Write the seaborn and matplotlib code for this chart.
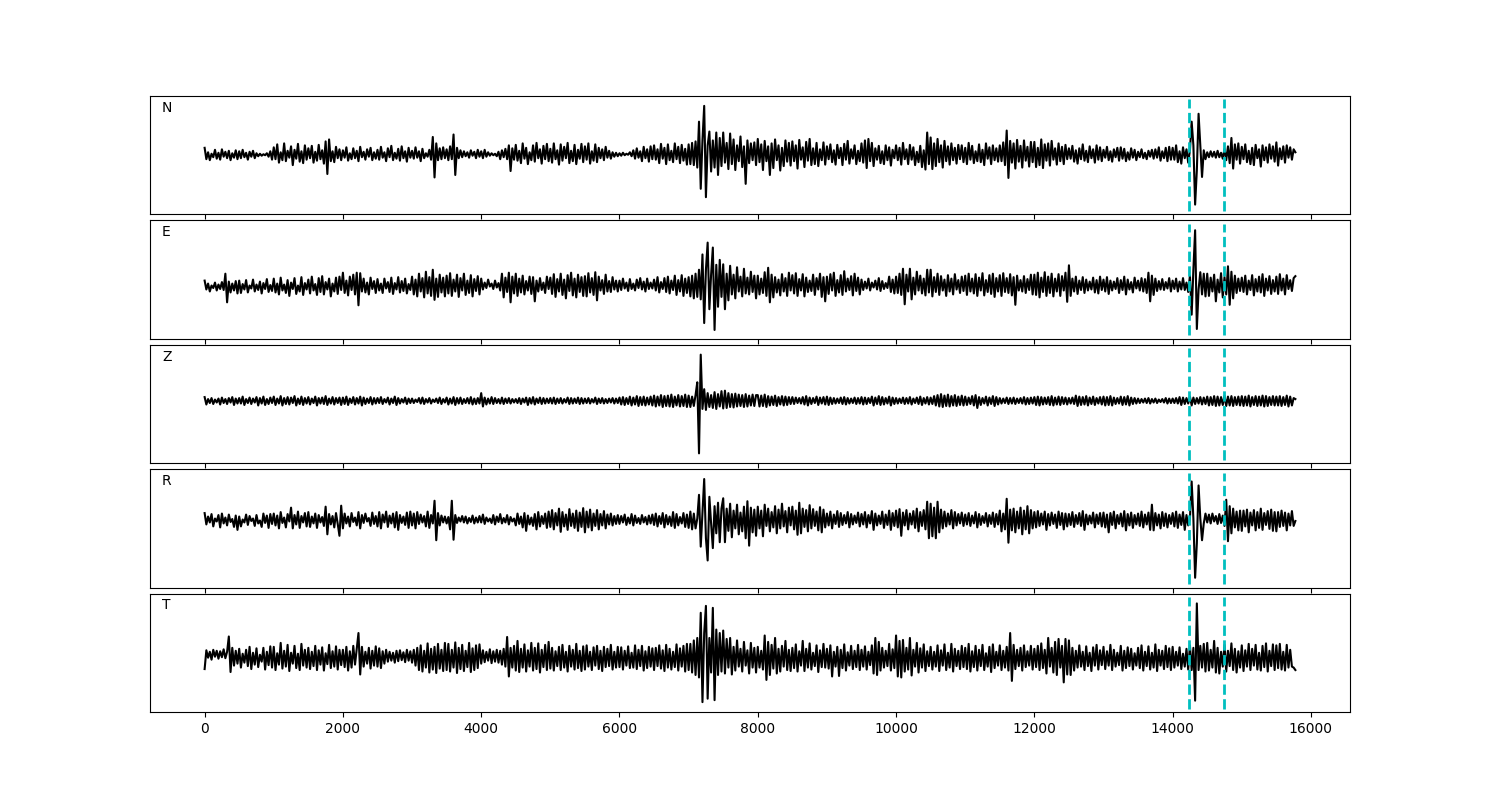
import numpy as np
import pandas as pd
import seaborn as sns
import matplotlib
matplotlib.use("Agg")
import matplotlib.pyplot as plt

components = ["N", "E", "Z", "R", "T"]
samples = np.arange(0, 15800, 25)
picks = [14230, 14740]

# normalised amplitudes (x100), one value every 25 samples, one row per 500 samples
trace_n = [
    15, -8, 6, -10, 3, -4, 11, -7, 5, -9, 12, -3, 7, -6, 9, -10, 4, -5, 10, -8,
    8, -6, 11, -4, 5, -9, 7, -3, 9, -6, 4, -2, 3, -1, 2, 0, 4, -3, 8, -9,
    16, -8, 22, -15, 6, -10, 24, -12, 9, -5, 18, -20, 11, -7, 23, -13, 8, -16, 20, -9,
    14, -6, 19, -15, 7, -11, 21, -8, 10, -17, 28, -38, 32, -12, 8, -14, 17, -6, 12, -10,
    10, -5, 16, -11, 4, -8, 14, -6, 9, -12, 17, -4, 7, -9, 12, -3, 15, -10, 6, -7,
    11, -9, 17, -5, 6, -12, 14, -4, 19, -10, 5, -7, 13, -11, 18, -6, 8, -13, 15, -5,
    9, -7, 16, -5, 8, -12, 13, -6, 4, -3, 11, -9, 37, -45, 24, -10, 14, -8, 16, -6,
    12, -10, 18, -8, 42, -40, 15, -6, 10, -4, 8, -2, 6, -5, 10, -1, 7, -6, 11, -3,
    8, -6, 11, -3, 6, -1, 4, 0, 3, -2, 7, -8, 10, -4, 13, -8, 20, -32, 14, -9,
    21, -11, 9, -16, 24, -7, 15, -18, 6, -10, 20, -13, 25, -6, 12, -17, 19, -8, 23, -12,
    13, -15, 24, -8, 10, -19, 22, -11, 17, -6, 25, -16, 9, -12, 21, -18, 11, -7, 23, -14,
    18, -9, 24, -17, 8, -11, 22, -14, 15, -6, 12, -10, 17, -5, 9, -7, 6, -3, 5, -2,
    4, -1, 5, 0, 3, 1, 6, -2, 10, -7, 14, -5, 8, -12, 17, -6, 12, -13, 18, -8,
    20, -9, 12, -16, 23, -7, 15, -18, 22, -10, 9, -14, 24, -8, 17, -16, 21, -11, 13, -19,
    22, -18, 25, -20, 28, -25, 68, -68, 30, 100, -85, 20, 48, -33, 30, -25, 46, -40, 35, -22,
    46, -15, 25, -28, 44, -18, 32, -30, 20, -12, 38, -24, 18, -58, 30, -16, 24, -10, 26, -20,
    33, -14, 22, -30, 29, -12, 18, -40, 24, -26, 32, -10, 20, -31, 15, -22, 30, -13, 25, -21,
    28, -12, 20, -27, 31, -9, 16, -24, 27, -11, 33, -20, 14, -18, 25, -22, 12, -10, 26, -19,
    18, -8, 22, -14, 10, -19, 21, -6, 15, -20, 23, -9, 29, -17, 12, -7, 20, -18, 9, -12,
    24, -15, 30, -26, 33, -12, 25, -22, 14, -9, 19, -16, 8, -18, 20, -10, 16, -21, 11, -6,
    20, -10, 15, -19, 25, -8, 12, -18, 21, -9, 16, -20, 7, -14, 19, -24, 10, -29, 46, -18,
    36, -28, 24, -22, 33, -14, 20, -25, 29, -12, 18, -19, 24, -10, 15, -17, 21, -8, 20, -14,
    15, -18, 25, -9, 19, -16, 8, -12, 22, -14, 11, -20, 24, -7, 16, -18, 20, -10, 14, -13,
    20, -12, 26, -20, 50, -46, 29, -15, 24, -27, 31, -13, 19, -25, 30, -11, 17, -23, 27, -14,
    27, -24, 15, -20, 32, -26, 22, -11, 24, -21, 29, -9, 14, -19, 24, -12, 17, -18, 21, -8,
    14, -7, 19, -13, 10, -17, 14, -8, 22, -11, 9, -14, 18, -6, 12, -15, 20, -9, 16, -12,
    11, -5, 17, -10, 8, -13, 12, -4, 15, -11, 16, -7, 13, -12, 6, -9, 14, -5, 11, -10,
    7, -4, 12, -6, 5, -8, 9, -3, 11, -7, 12, -5, 16, -11, 8, -6, 15, -12, 17, -9,
    15, -9, 20, -14, 8, -17, 16, -6, 12, -15, 10, 68, 20, -100, -30, 84, 20, -44, 10, -8,
    6, -4, 8, -3, 7, -5, 9, -4, 5, -7, 13, -10, 18, -16, 35, -27, 22, -9, 24, -17,
    17, -8, 22, -14, 9, -18, 15, -20, 21, -6, 12, -23, 20, -10, 16, -15, 22, -7, 18, -13,
    26, -21, 14, -8, 18, -15, 20, -5, 16, -9, 12, 6,
]
trace_e = [
    -2, -20, -8, -24, -12, -17, -6, -22, -10, -19, -5, -21, 12, -46, -4, -26, -8, -22, -3, -28,
    -2, -27, -9, -20, -1, -26, -12, -18, 0, -24, -10, -21, -4, -28, -7, -19, 1, -25, -11, -23,
    2, -26, -8, -30, 4, -22, -10, -27, -1, -33, -6, -19, 3, -29, -12, -24, 5, -31, -7, -20,
    0, -28, 6, -22, -9, -31, 3, -25, 7, -30, -5, -20, 2, -34, -8, -24, 4, -29, 6, -21,
    14, -27, -2, -32, 6, -21, 10, -30, 14, -52, 13, -24, 2, -26, -6, -30, 4, -19, -3, -27,
    1, -22, -8, -27, 2, -18, -5, -25, 4, -29, -7, -20, 5, -26, -3, -23, 2, -28, -9, -21,
    6, -30, 0, -34, 12, -24, 3, -36, 16, -28, 5, -33, 20, -41, 2, -35, 10, -26, 4, -34,
    8, -28, 13, -33, 0, -24, 10, -35, 3, -22, 12, -31, -2, -27, 9, -34, 1, -23, 7, -30,
    2, -20, -6, -17, 0, -14, -8, -19, -2, -16, -7, -22, 12, -36, 4, -25, 14, -46, 6, -28,
    12, -33, 2, -26, 8, -30, -3, -22, 6, -29, 5, -44, -2, -24, 3, -21, -6, -27, 6, -19,
    4, -29, 11, -35, 1, -24, 12, -31, 0, -38, 9, -23, 14, -32, 2, -36, 10, -25, 5, -33,
    7, -34, 13, -26, 3, -31, 15, -42, 6, -22, -1, -29, 10, -24, -3, -25, 5, -20, -2, -24,
    -2, -21, 2, -18, -6, -23, 1, -19, -8, -22, 0, -17, 3, -20, -4, -24, 2, -19, -6, -18,
    0, -22, 5, -26, -5, -19, 3, -25, 6, -28, -2, -21, 8, -31, -1, -24, 9, -33, 2, -27,
    5, -34, 8, -38, 12, -35, 20, -40, 51, -88, 20, 75, -60, 10, 65, -102, 30, -55, 40, -35,
    31, -60, 12, -42, 28, -30, 10, -38, 25, -24, 6, -34, 22, -28, 4, -30, 16, -25, 8, -38,
    8, -30, 2, -27, 15, -33, 24, -46, 10, -36, 5, -26, 0, -32, 11, -24, 3, -33, 14, -22,
    9, -28, 13, -33, 1, -22, 11, -34, 4, -25, -2, -23, 10, -31, 3, -20, 12, -35, 5, -44,
    6, -29, 11, -22, 14, -33, -1, -26, 9, -31, 17, -24, 2, -21, 7, -32, 12, -23, 4, -30,
    0, -21, -4, -18, 2, -22, -6, -16, -2, -20, 3, -23, -3, -19, -7, -17, 6, -25, 0, -28,
    6, -27, 12, -31, 22, -50, 10, -24, 22, -40, 4, -30, 16, -22, 8, -28, 2, -32, 20, -26,
    20, -34, 5, -25, 12, -31, 7, -22, 0, -33, 9, -24, 2, -30, 11, -20, -1, -27, 6, -23,
    8, -31, 12, -24, 2, -28, 11, -33, 4, -22, 13, -32, -1, -25, 9, -29, 12, -35, 3, -24,
    9, -33, 13, -25, 3, -27, 11, -32, 5, -51, 8, -22, -1, -24, 7, -27, 1, -21, 10, -30,
    10, -31, 14, -36, 4, -25, 15, -33, 6, -27, 12, -34, 2, -24, 11, -33, 7, -22, 14, -45,
    29, -33, 2, -24, 6, -29, -2, -21, 5, -27, 0, -22, -4, -20, 4, -26, -1, -28, 6, -21,
    0, -24, 5, -29, -2, -22, -4, -19, 3, -27, -1, -21, 6, -30, 0, -20, -5, -26, 4, -18,
    -2, -22, 3, -24, 1, -27, 14, -44, 8, -31, 2, -23, -3, -20, 1, -21, -5, -18, 3, -24,
    -2, -19, 2, -24, -4, -20, 3, -21, -6, -25, 8, -71, 20, 100, -100, -20, 15, -30, 12, -34,
    12, -33, 4, -24, 10, -44, 0, -26, 13, -36, 5, -30, 27, -51, 16, -38, 8, -27, 2, -23,
    4, -25, 8, -30, -2, -21, 9, -32, 1, -24, 6, -26, 11, -33, 2, -22, 7, -29, -1, -24,
    6, -29, 11, -22, 2, -30, 9, -19, -1, -23, 3, 7,
]
trace_z = [
    14, -1, 10, 2, 12, 0, 9, 3, 11, -1, 13, 2, 10, 0, 12, 3, 14, -2, 11, 1,
    12, 1, 15, -2, 10, 2, 13, 0, 11, 3, 14, -3, 12, 1, 15, -2, 10, 0, 13, 2,
    15, -2, 11, 1, 16, -3, 12, 0, 14, -1, 13, 2, 16, -3, 11, 0, 15, -2, 12, 1,
    14, -1, 11, 2, 15, -3, 12, 1, 13, 0, 16, -2, 11, 1, 14, -1, 12, 2, 13, -2,
    13, 0, 15, -2, 11, 2, 14, -1, 12, 1, 15, -3, 13, 0, 11, 2, 14, -1, 12, 1,
    12, 2, 14, 0, 10, 3, 13, -1, 11, 2, 15, -2, 12, 1, 10, 3, 13, 0, 11, 2,
    11, 2, 9, 4, 12, 1, 13, 0, 10, 3, 12, 1, 9, 4, 11, 2, 13, 0, 10, 3,
    13, -1, 11, 1, 14, -2, 12, 1, 13, 0, 10, 2, 12, 1, 14, -1, 11, 0, 12, 1,
    22, -5, 13, -1, 11, 1, 14, 0, 12, 2, 10, 1, 13, 0, 11, 2, 12, 1, 10, 3,
    10, 2, 12, 0, 11, 3, 13, -2, 12, 1, 14, -1, 11, 2, 13, 0, 12, 1, 11, 2,
    12, 1, 13, 0, 11, 2, 12, 1, 10, 3, 13, 0, 12, 1, 11, 2, 13, 0, 12, 1,
    11, 2, 12, 1, 10, 3, 13, 0, 11, 2, 12, 1, 10, 2, 11, 3, 12, 1, 11, 2,
    13, -1, 14, -2, 12, 0, 15, -3, 13, -1, 16, -4, 14, -2, 15, -3, 13, -1, 15, -3,
    17, -5, 15, -3, 18, -6, 16, -4, 17, -5, 19, -6, 15, -3, 18, -5, 16, -4, 19, -6,
    17, -6, 15, -4, 18, 44, -100, 100, -10, 30, -12, 22, -6, 18, -8, 24, -10, 20, -5, 26,
    -9, 27, -8, 22, -6, 20, -7, 21, -5, 19, -4, 18, -6, 20, -5, 17, -3, 19, -4, 18,
    18, -5, 17, -4, 19, -6, 16, -3, 15, -2, 17, -4, 14, -1, 16, -3, 15, -2, 14, 0,
    14, 0, 13, 2, 12, 1, 14, -1, 16, -3, 13, 0, 12, 2, 15, -2, 13, 1, 14, -1,
    15, -2, 13, 0, 12, 1, 11, 2, 13, 0, 14, -1, 12, 1, 11, 2, 13, 0, 12, 1,
    14, -1, 13, 0, 12, 2, 15, -3, 13, 0, 16, -2, 14, -1, 12, 1, 15, -3, 13, 0,
    12, 1, 11, 2, 13, 0, 12, 1, 14, -1, 11, 2, 13, 0, 15, -2, 12, 1, 14, -1,
    13, 0, 16, -3, 18, -5, 20, -6, 17, -4, 19, -5, 16, -3, 18, -4, 15, -2, 17, -3,
    15, -2, 13, 0, 16, -3, 18, -8, 14, -2, 12, 1, 15, -3, 13, 0, 16, -4, 14, -1,
    12, 1, 11, 2, 13, 0, 12, 1, 13, 0, 11, 2, 12, 1, 14, -1, 12, 0, 13, 1,
    14, -2, 15, -3, 14, -1, 13, 0, 14, -2, 16, -3, 13, -1, 15, -2, 14, 0, 13, -1,
    12, 1, 13, 0, 17, -4, 15, -2, 14, -1, 16, -3, 13, 0, 15, -2, 12, 1, 14, -1,
    15, -3, 14, -2, 16, -3, 13, 0, 12, 1, 15, -2, 14, -1, 16, -3, 13, 0, 12, 1,
    11, 2, 10, 3, 11, 2, 12, 1, 10, 3, 11, 2, 9, 4, 10, 3, 12, 1, 11, 2,
    11, 2, 12, 1, 14, -2, 13, 0, 12, 1, 15, -3, 13, 0, 12, 1, 14, -1, 13, 0,
    15, -3, 14, -2, 16, -4, 15, -3, 14, -2, 17, -4, 15, -3, 16, -4, 14, -2, 15, -3,
    16, -4, 15, -3, 17, -5, 14, -2, 16, -4, 15, -3, 17, -5, 16, -4, 14, -2, 16, -3,
    15, -3, 16, -4, 14, -2, 17, -5, 15, -3, 12, 10,
]
trace_r = [
    31, 8, 24, 12, 29, 4, 20, 14, 27, 2, 30, 10, 22, 6, 28, 13, 19, 3, 26, -3,
    24, 4, 18, 12, 28, 7, 25, 15, 20, 5, 27, 10, 16, 3, 30, 11, 26, 1, 29, 9,
    30, 6, 26, 0, 33, 11, 22, 2, 29, 14, 42, 0, 27, 8, 34, 1, 25, 12, 31, 4,
    33, 3, 24, 10, 30, 1, 27, 12, 23, 5, 44, -12, 29, 8, 25, 2, 31, 9, -15, 46,
    0, 30, 10, 24, 4, 31, 13, 22, 6, 33, 0, 27, 11, 30, 14, 21, 5, 32, 9, 25,
    4, 33, 0, 28, 12, 34, 3, 26, 10, 30, 2, 33, -3, 27, 11, 24, 7, 32, 1, 34,
    6, 30, 0, 33, 9, 28, 12, 25, 4, 34, 1, 27, 10, 56, -24, 31, 6, 26, 12, 24,
    10, 23, -2, 56, -23, 27, 11, 22, 14, 25, 12, 24, 10, 21, 13, 26, 10, 22, 12, 25,
    12, 28, 9, 22, 14, 20, 11, 27, 8, 24, 13, 29, 10, 21, 12, 27, 8, 23, 14, 20,
    6, 30, 9, 24, 2, 31, -5, 26, 8, 22, 5, 29, -2, 33, 4, 25, 9, 30, 1, 34,
    3, 37, -2, 31, 6, 40, -7, 33, 4, 28, -3, 39, 5, 30, 1, 36, -5, 32, 3, 41,
    -8, 34, 2, 38, -4, 30, 5, 37, -2, 29, 6, 35, 0, 28, 8, 30, 6, 25, 9, 27,
    9, 25, 12, 28, 7, 22, 10, 29, 6, 26, 11, 21, 9, 27, 12, 23, 8, 26, 10, 28,
    7, 30, 4, 25, 9, 31, 2, 27, 8, 24, 5, 33, 1, 29, 6, 23, 10, 31, 3, 28,
    1, 34, -2, 30, 0, 20, 68, -37, 30, 100, -20, -65, 64, 10, -40, 45, -10, 52, -28, 40,
    61, -28, 40, -5, 50, -18, 36, 0, 48, -12, 32, -6, 44, -20, 55, -35, 42, -8, 38, -15,
    44, 0, 36, -16, 48, 5, 40, -6, 33, 2, 45, -10, 38, 0, 50, 4, 35, -8, 42, 6,
    44, -2, 36, -13, 52, -10, 40, 3, 37, -6, 47, 0, 39, 5, 34, -4, 43, -8, 38, 2,
    30, 6, 34, 0, 28, 9, 35, 3, 31, 7, 27, 10, 33, 2, 29, 8, 26, 11, 32, 4,
    29, 8, 33, 2, 27, 10, 35, -3, 30, 6, 26, 9, 34, 1, 28, 7, 36, -3, 31, 5,
    36, 2, 39, -15, 32, 6, 37, -2, 30, 8, 35, 1, 40, -6, 33, 5, 37, -2, 54, -20,
    50, -16, 42, -20, 54, -8, 38, 0, 34, 4, 30, 8, 37, 0, 33, 6, 29, 10, 32, 5,
    28, 8, 31, 5, 26, 10, 33, 2, 29, 7, 25, 11, 31, 4, 27, 9, 32, 3, 29, 8,
    36, -6, 30, -2, 60, -29, 38, -4, 40, -8, 34, 0, 42, -12, 36, -2, 45, -10, 37, 0,
    33, 2, 35, 5, 30, 8, 34, -3, 29, 6, 32, 9, 28, 1, 34, 7, 31, -2, 30, 4,
    29, 7, 33, 3, 27, 9, 31, 5, 35, -3, 28, 8, 26, 10, 32, 2, 28, 9, 31, 4,
    32, 2, 28, -8, 31, 7, 34, 0, 27, 9, 30, 4, 35, -4, 29, 6, 32, 1, 27, 8,
    30, 5, 34, 2, 28, 8, 32, -3, 48, -4, 31, 6, 28, 0, 33, 5, 30, 2, 27, 9,
    31, 4, 34, 1, 28, 7, 33, -3, 27, 6, 20, 95, 20, -100, -30, 87, 20, -24, 10, 30,
    12, 28, 10, 30, 14, 25, 9, 29, 11, 26, 5, 58, -26, 45, -10, 40, 2, 34, -4, 36,
    -5, 36, 4, 38, -8, 32, 6, 37, -4, 33, 1, 40, -3, 31, 7, 35, -1, 38, -5, 33,
    -6, 33, 3, 36, 5, 32, -4, 30, 6, 35, 5, 15,
]
trace_t = [
    -33, 5, -10, 2, -14, 6, -8, 4, -12, 3, -9, 7, -11, 2, 33, -39, 10, -26, 4, -22,
    8, -30, -2, -20, 6, -27, 12, -33, 0, -24, 9, -29, -4, -18, 10, -34, 2, -25, 13, -30,
    12, -35, -1, -24, 20, -32, 4, -28, 16, -37, 0, -22, 14, -31, -2, -35, 18, -26, 6, -30,
    10, -33, 2, -27, 14, -35, 5, -24, 11, -36, -1, -23, 16, -31, 3, -28, 13, -34, 6, -25,
    6, -29, 12, -36, 3, -30, 14, -24, 8, 40, -44, 12, -28, 2, -22, 10, -32, 4, -26, 13,
    -28, 9, -31, 3, -22, 6, -18, 2, -16, 0, -20, 4, -17, 5, -15, 1, -19, 6, -16, 3,
    -20, 6, -26, 10, -35, 15, -38, 4, -30, 19, -40, 8, -34, 12, -41, 18, -32, 6, -37, 20,
    -35, 18, -38, 6, -30, 21, -41, 10, -33, 16, -37, 4, -29, 20, -39, 9, -35, 15, -31, 17,
    -22, 5, -19, 2, -16, 7, -21, 3, -18, 6, -20, 4, -24, 8, -28, 32, -48, 10, -30, 14,
    -36, 24, -39, 8, -30, 17, -38, 5, -28, 20, -36, 10, -33, 19, -40, 6, -29, 16, -35, 22,
    -32, 10, -36, 3, -27, 12, -35, 16, -30, 2, -38, 14, -28, 6, -34, 18, -31, 4, -37, 13,
    -34, 15, -28, 2, -35, 11, -26, 14, -33, 4, -37, 12, -29, 8, -27, 16, -34, 2, -30, 12,
    -29, 11, -34, 4, -26, 13, -31, 0, -30, 15, -33, 6, -27, 14, -36, 3, -31, 12, -28, 9,
    -35, 10, -27, 15, -32, 5, -37, 16, -30, 8, -34, 2, -29, 17, -36, 9, -28, 14, -38, 18,
    -35, 18, -40, 25, -45, 30, -50, 81, -100, 40, 95, -93, 30, -40, 91, -96, 47, -45, 40, -38,
    45, -42, 28, -30, 30, -44, 12, -36, 25, -28, 8, -38, 22, -26, 5, -42, 20, -30, 10, -40,
    12, -30, 4, -34, 35, -55, 22, -45, 16, -32, 30, -42, 8, -38, 14, -28, 24, -35, 6, -37,
    10, -31, 17, -38, 3, -26, 24, -37, 8, -30, 19, -34, 0, -27, 15, -39, 5, -29, 18, -30,
    8, -32, 15, -48, 2, -28, 12, -47, 6, -31, 17, -36, 1, -26, 14, -33, 4, -29, 16, -35,
    6, -28, 13, -34, 2, -25, 15, -42, 30, -45, 22, -36, 10, -30, 4, -27, 18, -36, 7, -31,
    35, -48, 24, -50, 26, -38, 10, -34, 30, -46, 6, -28, 20, -40, 9, -30, 17, -37, 3, -27,
    12, -34, 2, -28, 15, -37, 5, -26, 17, -35, 0, -30, 18, -38, 8, -27, 4, -33, 14, -29,
    10, -33, 18, -38, 3, -29, 14, -36, 6, -27, 16, -35, -1, -28, 12, -39, 17, -31, 2, -26,
    15, -35, 4, -30, 12, -36, 40, -57, 16, -33, 6, -27, 10, -36, 15, -29, 3, -26, 14, -34,
    8, -29, 14, -35, 19, -31, 6, -42, 30, -28, 10, -40, 22, -45, 28, -30, 14, -60, 28, -44,
    25, -45, 10, -36, 4, -30, 15, -28, 2, -35, 13, -27, 0, -37, 11, -26, 16, -34, 5, -25,
    12, -33, 3, -26, 16, -35, 6, -28, 0, -25, 14, -36, 4, -31, 11, -27, 8, -34, -1, -26,
    10, -31, 15, -36, 2, -27, 13, -34, 0, -30, 17, -37, 6, -26, 4, -33, 14, -29, 9, -35,
    12, -30, 2, -26, 11, -33, -2, -28, 8, -34, 15, -35, 10, -97, 100, -35, 14, -30, 18, -38,
    20, -36, 6, -30, 24, -40, 10, -42, 2, -28, 16, -38, 4, -27, 19, -35, 8, -40, 3, -30,
    15, -37, 5, -28, 18, -35, 8, -26, 16, -34, 0, -36, 14, -29, 19, -38, 4, -27, 17, -35,
    15, -31, 18, -34, 2, -36, 16, -30, 6, -28, -30, -35,
]

traces = [trace_n, trace_e, trace_z, trace_r, trace_t]
frames = []
for comp, vals in zip(components, traces):
    assert len(vals) == len(samples), (comp, len(vals))
    frames.append(pd.DataFrame({"sample": samples,
                                "amp": np.array(vals) / 100.0,
                                "comp": comp}))
df = pd.concat(frames, ignore_index=True)

fig, axes = plt.subplots(5, 1, sharex=True, figsize=(15, 8), dpi=100)
fig.subplots_adjust(left=0.1, right=0.9, top=0.88, bottom=0.11, hspace=0.05)

for ax, comp in zip(axes, components):
    sub = df[df["comp"] == comp]
    sns.lineplot(data=sub, x="sample", y="amp", ax=ax, color="k",
                 lw=1.5, estimator=None, sort=False)
    ax.vlines(picks, -1.13, 1.13, colors="c", linestyles="--", lw=2)
    ax.set_ylim(-1.2, 1.2)
    ax.set_yticks([])
    ax.set_xlabel("")
    ax.set_ylabel("")
    ax.text(0.01, 0.9, comp, transform=ax.transAxes, va="center",
            ha="left", fontsize=10)

axes[-1].set_xlim(-790, 16565)
fig.savefig("out.png")
